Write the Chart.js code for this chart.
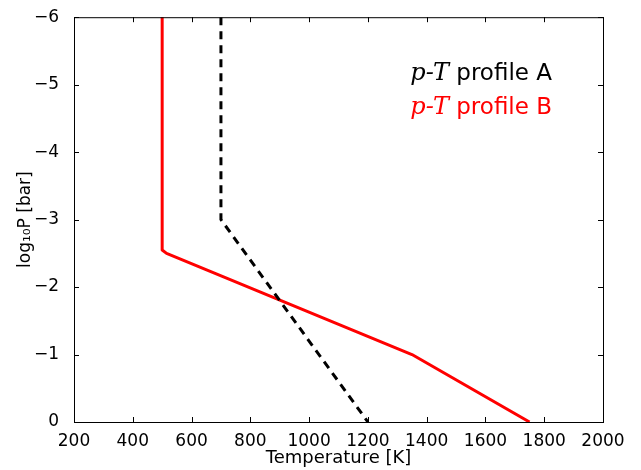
<!DOCTYPE html>
<html>
<head>
<meta charset="utf-8">
<script src="https://cdn.jsdelivr.net/npm/chart.js@4"></script>
<style>
  body { margin: 0; background: #fff; }
  #wrap { width: 641px; height: 470px; }
</style>
</head>
<body>
<div id="wrap"><canvas id="myChart" width="641" height="470"></canvas></div>
<script>
// data
const tempA = [700, 700, 1200];
const logPA = [-6, -3, 0];
const tempB = [500, 500, 515, 1350, 1750];
const logPB = [-6, -2.55, -2.5, -1, 0];
const xTicks = [200, 400, 600, 800, 1000, 1200, 1400, 1600, 1800, 2000];
const yTicks = [-6, -5, -4, -3, -2, -1, 0];
const legendNames = ['profile A', 'profile B'];
const legendColors = ['black', 'red'];

const toPoints = (xs, ys) => xs.map((x, i) => ({ x: x, y: ys[i] }));
const fmt = v => (v < 0 ? '\u2212' + Math.abs(v) : '' + v);

// inward ticks on all four sides + frame
const frameTicks = {
    id: 'frameTicks',
    afterDraw(chart) {
        const ctx = chart.ctx;
        const a = chart.chartArea;
        const xs = chart.scales.x, ys = chart.scales.y;
        const len = 5;
        ctx.save();
        ctx.strokeStyle = 'black';
        ctx.lineWidth = 1;
        ctx.strokeRect(a.left + 0.5, a.top + 0.5, a.right - a.left, a.bottom - a.top);
        ctx.beginPath();
        xTicks.forEach(v => {
            const px = Math.round(xs.getPixelForValue(v)) + 0.5;
            ctx.moveTo(px, a.bottom); ctx.lineTo(px, a.bottom - len);
            ctx.moveTo(px, a.top); ctx.lineTo(px, a.top + len);
        });
        yTicks.forEach(v => {
            const py = Math.round(ys.getPixelForValue(v)) + 0.5;
            ctx.moveTo(a.left, py); ctx.lineTo(a.left + len, py);
            ctx.moveTo(a.right, py); ctx.lineTo(a.right - len, py);
        });
        ctx.stroke();
        ctx.restore();
    }
};

// legend text: "p-T profile X", right aligned
const textLegend = {
    id: 'textLegend',
    afterDraw(chart) {
        const ctx = chart.ctx;
        const right = 552;
        const baselines = [80, 114];
        ctx.save();
        ctx.textBaseline = 'alphabetic';
        legendNames.forEach((name, i) => {
            ctx.fillStyle = legendColors[i];
            const sans = '23px "DejaVu Sans"';
            const serif = 'italic 24px "DejaVu Serif"';
            const rest = ' ' + name;
            ctx.font = sans;
            const wRest = ctx.measureText(rest).width;
            ctx.font = serif;
            const wMath = ctx.measureText('p-T').width;
            const x0 = right - wRest - wMath;
            ctx.fillText('p-T', x0, baselines[i]);
            ctx.font = sans;
            ctx.fillText(rest, x0 + wMath, baselines[i]);
        });
        ctx.restore();
    }
};

new Chart(document.getElementById('myChart'), {
    type: 'scatter',
    data: {
        datasets: [{
            label: 'A',
            data: toPoints(tempA, logPA),
            showLine: true,
            borderColor: 'black',
            borderWidth: 3,
            borderDash: [8, 6],
            pointRadius: 0,
            fill: false
        }, {
            label: 'B',
            data: toPoints(tempB, logPB),
            showLine: true,
            borderColor: 'red',
            borderWidth: 3,
            borderJoinStyle: 'round',
            pointRadius: 0,
            fill: false
        }]
    },
    options: {
        responsive: false,
        animation: false,
        layout: { padding: { top: 14, right: 38, left: 15, bottom: 0 } },
        plugins: { legend: { display: false }, tooltip: { enabled: false } },
        scales: {
            x: {
                type: 'linear',
                min: 200,
                max: 2000,
                afterBuildTicks: s => { s.ticks = xTicks.map(v => ({ value: v })); },
                afterFit: s => { s.height = 48; },
                grid: { display: false },
                border: { display: true, color: 'black', width: 1 },
                ticks: {
                    color: 'black',
                    font: { family: 'DejaVu Sans', size: 17 },
                    padding: 1,
                    maxRotation: 0,
                    callback: v => fmt(v)
                },
                title: {
                    display: true,
                    text: 'Temperature [K]',
                    color: 'black',
                    font: { family: 'DejaVu Sans', size: 18 },
                    padding: { top: 0, bottom: 1 }
                }
            },
            y: {
                type: 'linear',
                min: -6,
                max: 0,
                reverse: true,
                afterBuildTicks: s => { s.ticks = yTicks.map(v => ({ value: v })); },
                afterFit: s => { s.width = 59; },
                grid: { display: false },
                border: { display: true, color: 'black', width: 1 },
                ticks: {
                    color: 'black',
                    font: { family: 'DejaVu Sans', size: 17 },
                    padding: 7,
                    callback: v => fmt(v)
                },
                title: {
                    display: true,
                    text: 'log\u2081\u2080P [bar]',
                    color: 'black',
                    font: { family: 'DejaVu Sans', size: 17 },
                    padding: { top: 0, bottom: 4 }
                }
            }
        }
    },
    plugins: [frameTicks, textLegend]
});
</script>
</body>
</html>
